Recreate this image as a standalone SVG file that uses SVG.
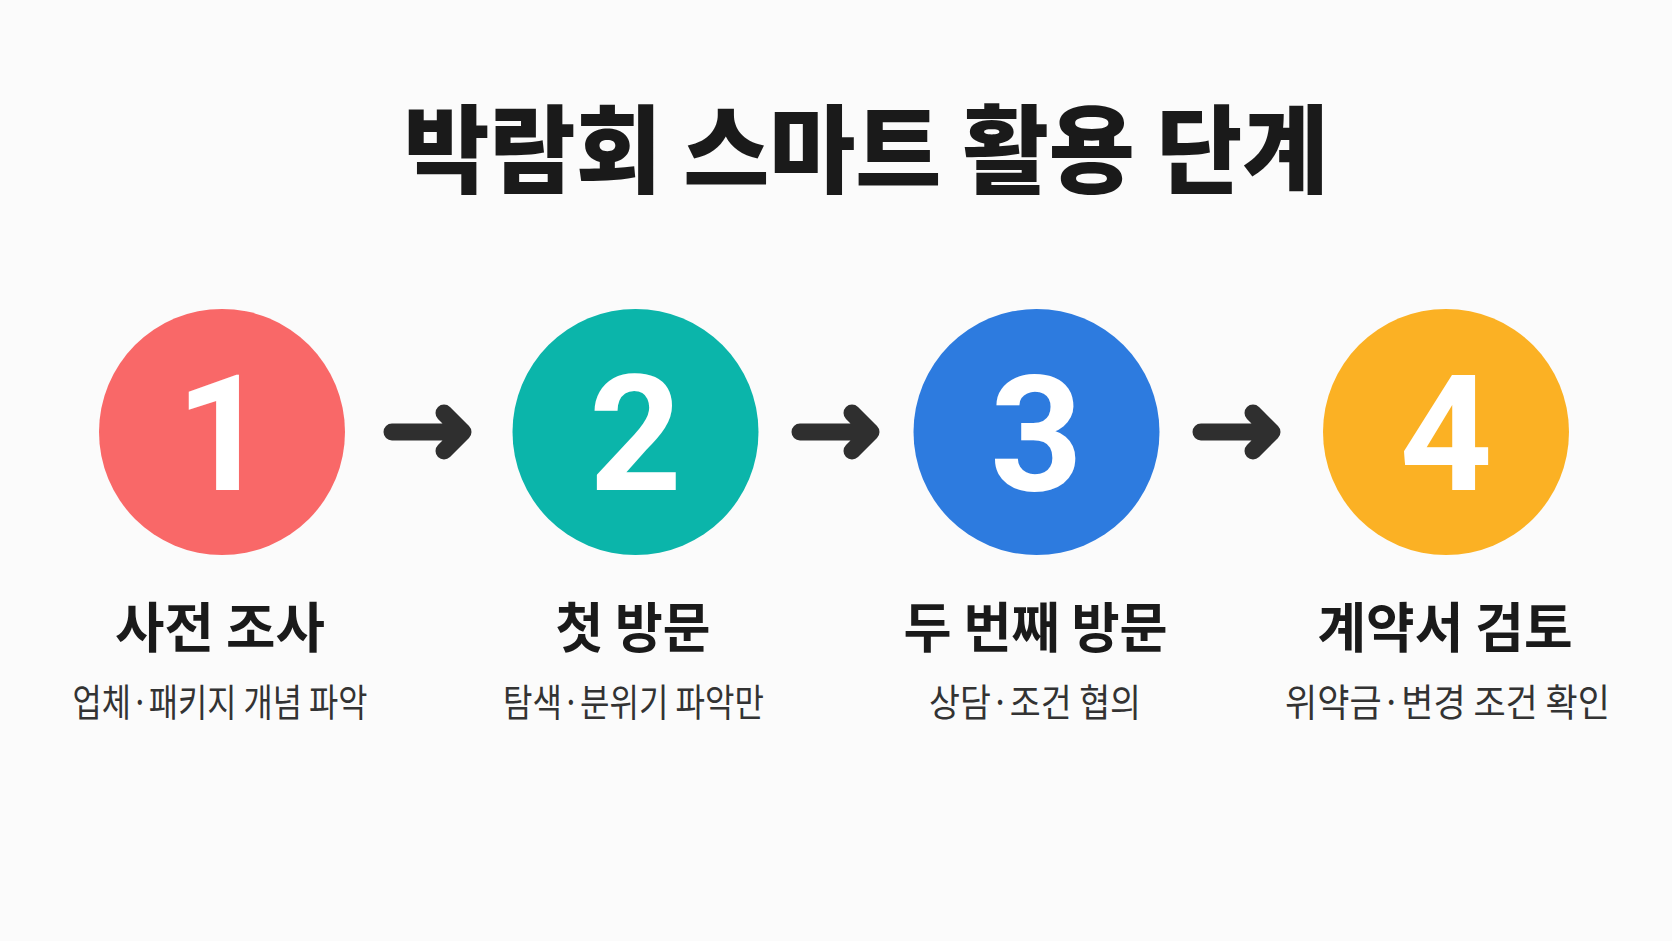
<svg xmlns="http://www.w3.org/2000/svg" xmlns:xlink="http://www.w3.org/1999/xlink" width="1672" height="941" viewBox="0 0 1672 941">
  <style>
    .title { font-family: "Noto Sans CJK KR", "Noto Sans", sans-serif; font-weight: 900; font-size: 96px; fill: #1a1a1a; text-anchor: middle; }
    .head { font-family: "Noto Sans CJK KR", "Noto Sans", sans-serif; font-weight: 700; font-size: 54px; fill: #1a1a1a; text-anchor: middle; }
    .sub { font-family: "Noto Sans CJK KR", "Noto Sans", sans-serif; font-weight: 400; font-size: 38px; fill: #333333; text-anchor: middle; }
    .num { font-family: Roboto, "Liberation Sans", sans-serif; font-weight: 700; font-size: 162px; fill: #ffffff; text-anchor: middle; }
    .arrow { fill: none; stroke: #2f2f2f; stroke-width: 17; stroke-linecap: round; stroke-linejoin: round; }
  </style>
  <defs>
    <g id="arrow">
      <path class="arrow" d="M392,432 H462 M444,413 L463,432 L444,451"/>
    </g>
  </defs>
  <rect width="1672" height="941" fill="#fbfbfb"/>
  <g id="title">
    <text class="title" x="866" y="185" textLength="925" lengthAdjust="spacingAndGlyphs">박람회 스마트 활용 단계</text>
  </g>
  <g id="connectors">
    <use xlink:href="#arrow"/>
    <use xlink:href="#arrow" transform="translate(408,0)"/>
    <use xlink:href="#arrow" transform="translate(809,0)"/>
  </g>
  <g id="step1">
    <circle cx="222" cy="432" r="123" fill="#f96868"/>
    <text class="num" x="222" y="490">1</text>
    <text class="head" x="220" y="648" textLength="210" lengthAdjust="spacingAndGlyphs">사전 조사</text>
    <text class="sub" x="220" y="716" textLength="295" lengthAdjust="spacingAndGlyphs">업체·패키지 개념 파악</text>
  </g>
  <g id="step2">
    <circle cx="635.5" cy="432" r="123" fill="#0bb5aa"/>
    <text class="num" x="635.5" y="490">2</text>
    <text class="head" x="633" y="648" textLength="155" lengthAdjust="spacingAndGlyphs">첫 방문</text>
    <text class="sub" x="633.5" y="716" textLength="261" lengthAdjust="spacingAndGlyphs">탐색·분위기 파악만</text>
  </g>
  <g id="step3">
    <circle cx="1036.5" cy="432" r="123" fill="#2d7bdf"/>
    <text class="num" x="1036.5" y="490">3</text>
    <text class="head" x="1035.5" y="648" textLength="264" lengthAdjust="spacingAndGlyphs">두 번째 방문</text>
    <text class="sub" x="1035" y="716" textLength="212" lengthAdjust="spacingAndGlyphs">상담·조건 협의</text>
  </g>
  <g id="step4">
    <circle cx="1446" cy="432" r="123" fill="#fbb124"/>
    <text class="num" x="1446" y="490">4</text>
    <text class="head" x="1445" y="648" textLength="255" lengthAdjust="spacingAndGlyphs">계약서 검토</text>
    <text class="sub" x="1447.5" y="716" textLength="325" lengthAdjust="spacingAndGlyphs">위약금·변경 조건 확인</text>
  </g>
</svg>
